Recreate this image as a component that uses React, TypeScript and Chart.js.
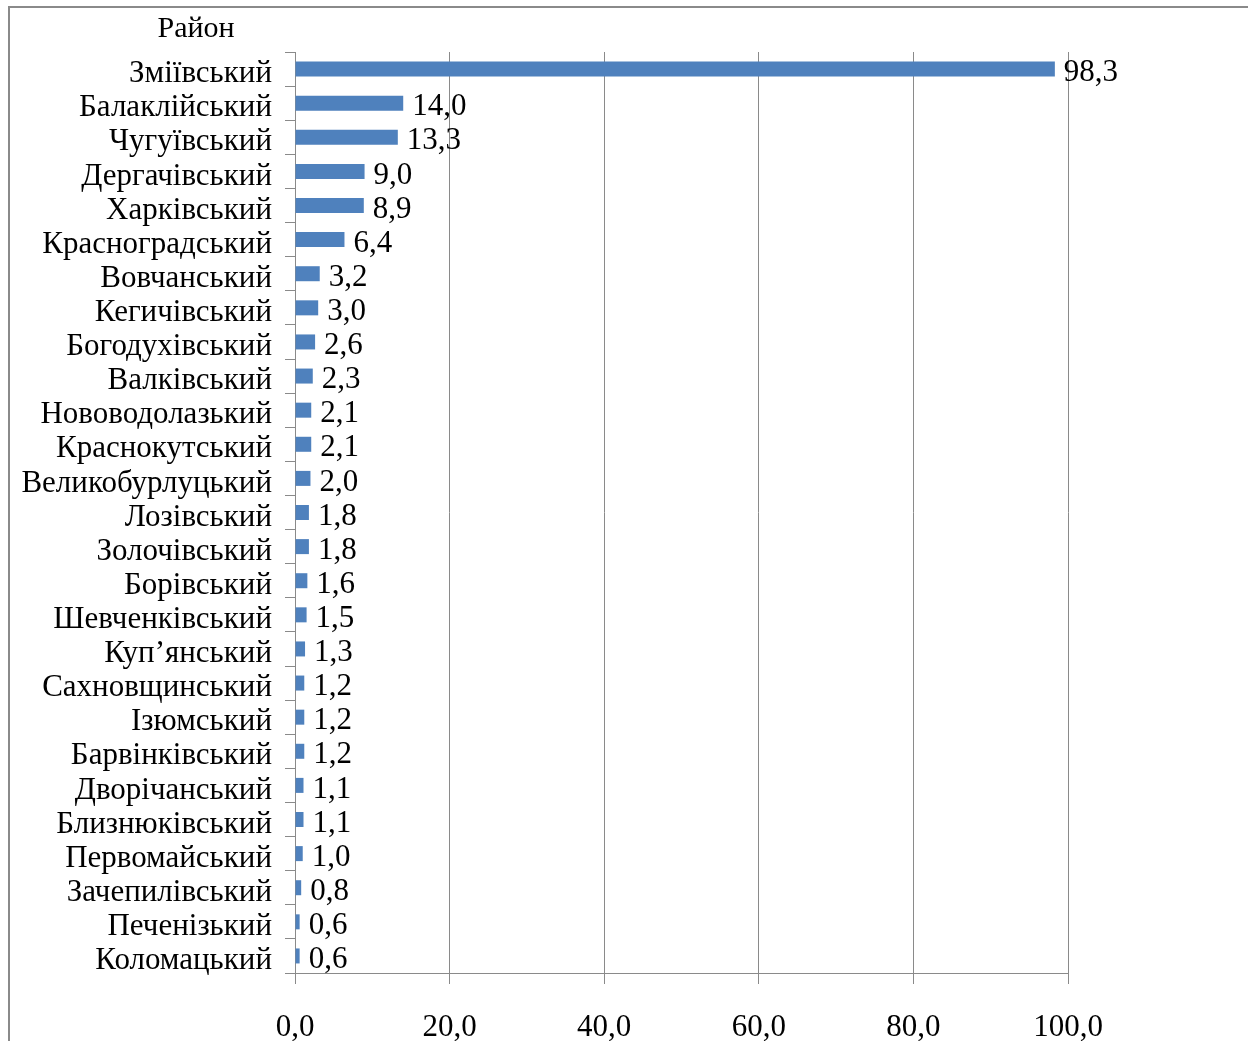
import React, { useEffect, useRef } from "react";
import { Chart, registerables } from "chart.js";

Chart.register(...registerables);

const districts = [
  "Зміївський", "Балаклійський", "Чугуївський", "Дергачівський", "Харківський",
  "Красноградський", "Вовчанський", "Кегичівський", "Богодухівський", "Валківський",
  "Нововодолазький", "Краснокутський", "Великобурлуцький", "Лозівський", "Золочівський",
  "Борівський", "Шевченківський", "Куп’янський", "Сахновщинський", "Ізюмський",
  "Барвінківський", "Дворічанський", "Близнюківський", "Первомайський", "Зачепилівський",
  "Печенізький", "Коломацький",
];
const values = [
  98.3, 14.0, 13.3, 9.0, 8.9, 6.4, 3.2, 3.0, 2.6, 2.3, 2.1, 2.1, 2.0, 1.8, 1.8,
  1.6, 1.5, 1.3, 1.2, 1.2, 1.2, 1.1, 1.1, 1.0, 0.8, 0.6, 0.6,
];
const axisTitle = "Район";
const xMin = 0;
const xMax = 100;
const xStep = 20;

const FONT = '"Liberation Serif", "Times New Roman", serif';
const FS = 31;
const fmt = (v: number) => v.toFixed(1).replace(".", ",");

export default function App() {
  const ref = useRef<HTMLCanvasElement | null>(null);
  useEffect(() => {
    if (!ref.current) return;
    const framePlugin = {
      id: "frame",
      beforeDraw(chart: any) {
        const c = chart.ctx;
        c.save();
        c.fillStyle = "#ffffff";
        c.fillRect(0, 0, chart.width, chart.height);
        c.strokeStyle = "#8a8a8a";
        c.lineWidth = 2;
        c.beginPath();
        c.moveTo(9, chart.height);
        c.lineTo(9, 7);
        c.lineTo(chart.width, 7);
        c.stroke();
        c.fillStyle = "#000";
        c.font = `${FS - 1}px ${FONT}`;
        c.textAlign = "center";
        c.textBaseline = "middle";
        c.fillText(axisTitle, 196, 29);
        c.restore();
      },
    };
    const labelPlugin = {
      id: "valueLabels",
      afterDatasetsDraw(chart: any) {
        const c = chart.ctx;
        const meta = chart.getDatasetMeta(0);
        c.save();
        c.fillStyle = "#000";
        c.font = `${FS}px ${FONT}`;
        c.textAlign = "left";
        c.textBaseline = "middle";
        meta.data.forEach((bar: any, i: number) => {
          c.fillText(fmt(values[i]), bar.x + 9, bar.y + 4);
        });
        c.restore();
      },
    };
    const chart = new Chart(ref.current, {
      type: "bar",
      data: {
        labels: districts,
        datasets: [
          {
            data: values,
            backgroundColor: "#4F81BD",
            borderWidth: 0,
            barPercentage: 0.44,
            categoryPercentage: 1,
          },
        ],
      },
      options: {
        indexAxis: "y",
        animation: false,
        responsive: false,
        maintainAspectRatio: false,
        layout: { padding: { top: 52, right: 180, bottom: 0, left: 0 } },
        plugins: { legend: { display: false }, tooltip: { enabled: false } },
        scales: {
          x: {
            min: xMin,
            max: xMax,
            afterFit: (s: any) => { s.height = 68; },
            ticks: {
              stepSize: xStep,
              color: "#000",
              font: { family: FONT, size: FS },
              padding: 25,
              callback: (v: any) => fmt(Number(v)),
            },
            grid: { color: "#8a8a8a", lineWidth: 1, tickLength: 11, drawTicks: true },
            border: { color: "#8a8a8a", width: 1 },
          },
          y: {
            afterFit: (s: any) => { s.width = 295; },
            ticks: {
              color: "#000",
              font: { family: FONT, size: FS },
              padding: 13,
              labelOffset: 5,
              autoSkip: false,
            },
            grid: { drawOnChartArea: false, color: "#8a8a8a", tickLength: 10, offset: true },
            border: { color: "#8a8a8a", width: 1 },
          },
        },
      },
      plugins: [framePlugin, labelPlugin],
    });
    return () => chart.destroy();
  }, []);
  return (
    <div style={{ position: "absolute", left: 0, top: 0, width: 1248, height: 1041 }}>
      <canvas ref={ref} width={1248} height={1041} style={{ display: "block" }} />
    </div>
  );
}
